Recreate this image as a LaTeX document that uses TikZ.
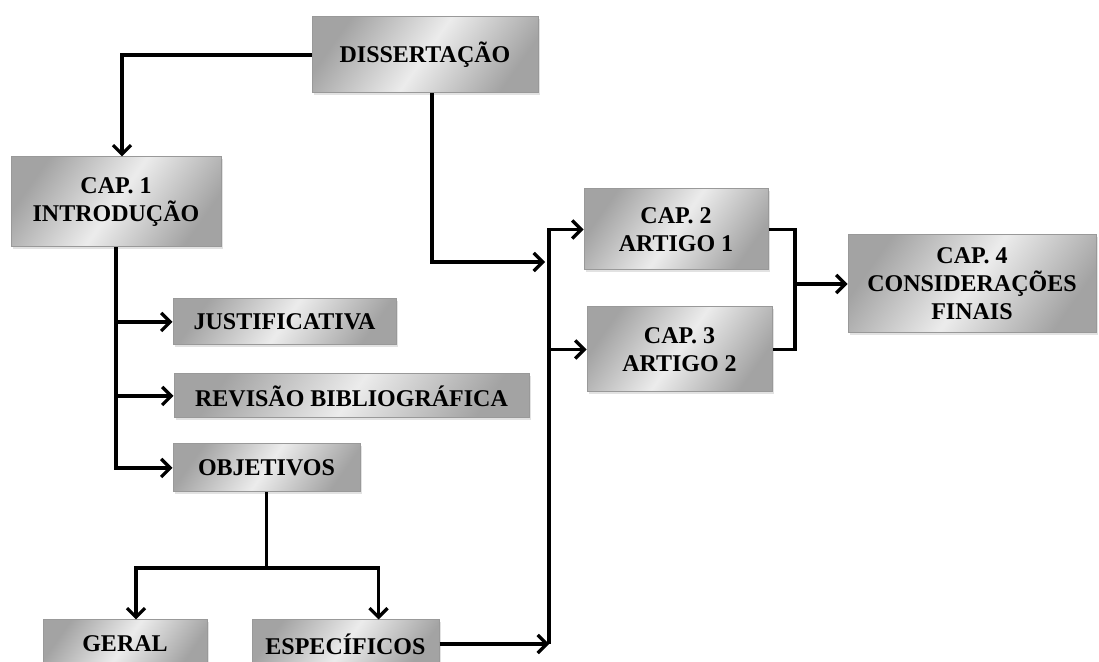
\documentclass[tikz,border=0pt]{standalone}
\usepackage{fontspec}
\setmainfont{Liberation Serif}
\usetikzlibrary{arrows.meta,shadows}

\tikzset{
  box/.style={draw=gray!80,line width=0.5pt,top color=gray!72,bottom color=gray!72,middle color=gray!15,shading angle=55,
    drop shadow={shadow xshift=1.2pt,shadow yshift=-1.2pt,fill=gray!45},
    align=center,inner sep=2pt,font=\fontsize{12}{14}\selectfont\bfseries},
  link/.style={line width=1.9pt},
  arr/.style={link,-{Straight Barb[length=4.5pt,width=9pt,line width=1.6pt]}}
}

\begin{document}
\begin{tikzpicture}[x=0.5pt,y=-0.5pt]
\clip (0,0) rectangle (1099,662);
\fill[white] (0,0) rectangle (1099,662);
% boxes
\node[box,minimum width=113pt,minimum height=38pt] (diss) at (425,55) {DISSERTAÇÃO};
\node[box,minimum width=105pt,minimum height=45pt] (intro) at (116,202) {CAP. 1\\INTRODUÇÃO};
\node[box,minimum width=92pt,minimum height=40.5pt] (art1) at (676,229.5) {CAP. 2\\ARTIGO 1};
\node[box,minimum width=92.5pt,minimum height=42.5pt] (art2) at (679.5,349.5) {CAP. 3\\ARTIGO 2};
\node[box,minimum width=124pt,minimum height=49pt] (final) at (972,284) {CAP. 4\\CONSIDERAÇÕES\\FINAIS};
\node[box,minimum width=111.5pt,minimum height=23pt] (just) at (284.5,322) {JUSTIFICATIVA};
\node[box,minimum width=177.5pt,minimum height=22pt] (rev) at (351.5,396) {REVISÃO BIBLIOGRÁFICA};
\node[box,minimum width=93.5pt,minimum height=24pt] (obj) at (266.5,468) {OBJETIVOS};
\node[box,minimum width=82pt,minimum height=24pt] (geral) at (125,644) {GERAL};
\node[box,minimum width=93.5pt,minimum height=24pt] (esp) at (345.5,644) {ESPECÍFICOS};
% connectors
\coordinate (busB) at (549,644);
\coordinate (split) at (266.5,568);
\coordinate (join) at (795,284);
\draw[arr] (diss.west) -| ([xshift=3pt]intro.north);
\draw[arr] ([xshift=3.5pt]diss.south) |- ([xshift=-2pt]busB |- 0,262);
\draw[arr] (intro.south) |- (obj.west);
\draw[arr] (intro.south |- just.west) -- (just.west);
\draw[arr] (intro.south |- rev.west) -- (rev.west);
\draw[link] (obj.south) -- (split);
\draw[arr] (split) -| ([xshift=5.5pt]geral.north);
\draw[arr] (split) -| ([xshift=16.5pt]esp.north);
\draw[arr] (esp.east) -- (busB);
\draw[arr] (busB) |- (art1.west);
\draw[arr] (busB |- art2.west) -- (art2.west);
\draw[link] (art1.east) -| (join) |- (art2.east);
\draw[arr] (join) -- (final.west);
\end{tikzpicture}
\end{document}
